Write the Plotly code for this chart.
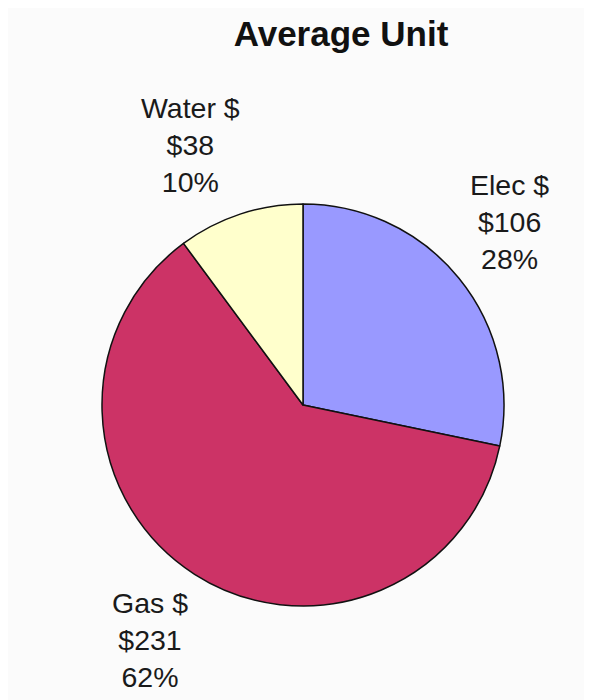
import plotly.graph_objects as go

categories = ["Elec $", "Gas $", "Water $"]
values = [106, 231, 38]
colors = ["#9999FF", "#CC3366", "#FFFFCC"]
title_text = "Average Unit"

W, H = 592, 700
OFF = 8  # page body margin offset
cx, cy, r = 303 - OFF, 405 - OFF, 201

fig = go.Figure()
fig.add_trace(go.Pie(
    labels=categories,
    values=values,
    sort=False,
    direction="clockwise",
    rotation=0,
    marker=dict(colors=colors, line=dict(color="#111111", width=1.5)),
    textinfo="none",
    hoverinfo="label+value+percent",
    showlegend=False,
    domain=dict(x=[(cx - r) / W, (cx + r) / W], y=[(H - cy - r) / H, (H - cy + r) / H]),
))

total = sum(values)
label_pos = {"Elec $": (509, 222), "Gas $": (150, 640), "Water $": (190, 145)}
for cat, val in zip(categories, values):
    pct = round(100 * val / total)
    x, y = label_pos[cat]
    fig.add_annotation(
        x=(x - OFF) / W, y=1 - (y - OFF) / H, xref="paper", yref="paper",
        text=f"{cat}<br>${val}<br>{pct}%",
        showarrow=False, align="center",
        xanchor="center", yanchor="middle",
        font=dict(family="Liberation Sans, Arial", size=28.5, color="#1a1a1a"),
    )

fig.update_layout(
    width=W, height=H,
    margin=dict(l=0, r=0, t=0, b=0),
    paper_bgcolor="#fbfbfb",
    plot_bgcolor="#fbfbfb",
    title=dict(
        text=f"<b>{title_text}</b>",
        x=(341 - OFF) / W, xanchor="center",
        y=1 - (34 - OFF) / H, yanchor="middle",
        font=dict(family="Liberation Sans, Arial", size=35, color="#111111"),
    ),
)

fig.write_html("out.html")
